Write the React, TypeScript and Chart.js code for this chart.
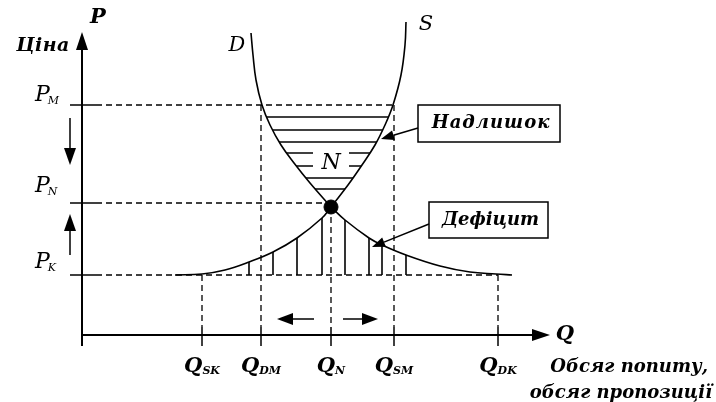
import React, { useEffect, useRef } from "react";
import { Chart, registerables } from "chart.js";
Chart.register(...registerables);

// ---- data (units: Q to the right of the price axis, P above the quantity axis) ----
const Q_VALUES = [120, 179, 249, 312, 416];
const Q_SUBS = ["SK", "DM", "N", "SM", "DK"];
const Q_TOPS = [60, 230, 128, 230, 60];
const P_VALUES = [230, 132, 60];
const P_SUBS = ["M", "N", "K"];
const P_ENDS = [312, 249, 416];
const P_LABEL_OFFSETS = [4, 11, 7];
const EQUILIBRIUM = [{ x: 249, y: 128 }];

const demandUpper = [
  { x: 169, y: 302 }, { x: 171, y: 280 }, { x: 174, y: 255 }, { x: 180, y: 230 },
  { x: 188, y: 210 }, { x: 199, y: 190 }, { x: 212, y: 172 }, { x: 228, y: 152 },
  { x: 249, y: 128 },
];
const supplyUpper = [
  { x: 324, y: 313 }, { x: 323, y: 290 }, { x: 319, y: 260 }, { x: 311, y: 230 },
  { x: 303, y: 210 }, { x: 293, y: 190 }, { x: 280, y: 170 }, { x: 266, y: 150 },
  { x: 249, y: 128 },
];
const supplyLower = [
  { x: 93, y: 60 }, { x: 120, y: 61 }, { x: 143, y: 65 }, { x: 167, y: 73 },
  { x: 191, y: 83 }, { x: 215, y: 97 }, { x: 240, y: 117 }, { x: 249, y: 128 },
];
const demandLower = [
  { x: 249, y: 128 }, { x: 263, y: 115 }, { x: 287, y: 97 }, { x: 300, y: 90 },
  { x: 324, y: 80 }, { x: 358, y: 69 }, { x: 388, y: 63 }, { x: 414, y: 61 },
  { x: 430, y: 60 },
];
const SURPLUS_HATCH = [218, 205, 193, 182, 169, 157, 146];
const DEFICIT_HATCH = [167, 191, 215, 240, 263, 287, 300, 324];

const SERIF = "'DejaVu Serif', 'Liberation Serif', serif";

export default function App() {
  const ref = useRef<HTMLCanvasElement | null>(null);
  useEffect(() => {
    const canvas = ref.current;
    if (!canvas) return;

    const plugin = {
      id: "economics",
      beforeDatasetsDraw(chart: any) {
        const ctx = chart.ctx as CanvasRenderingContext2D;
        const xs = chart.scales.x, ys = chart.scales.y;
        const X = (v: number) => xs.getPixelForValue(v);
        const Y = (v: number) => ys.getPixelForValue(v);
        ctx.save();
        ctx.strokeStyle = "#000";
        ctx.lineCap = "butt";

        // surplus hatching
        ctx.save();
        ctx.beginPath();
        demandUpper.forEach((p, i) => (i ? ctx.lineTo(X(p.x), Y(p.y)) : ctx.moveTo(X(p.x), Y(p.y))));
        [...supplyUpper].reverse().forEach((p) => ctx.lineTo(X(p.x), Y(p.y)));
        ctx.closePath();
        ctx.clip();
        ctx.lineWidth = 1.6;
        SURPLUS_HATCH.forEach((v) => {
          ctx.beginPath();
          ctx.moveTo(X(0), Y(v));
          ctx.lineTo(X(600), Y(v));
          ctx.stroke();
        });
        ctx.restore();

        // deficit hatching
        ctx.save();
        ctx.beginPath();
        supplyLower.forEach((p, i) => (i ? ctx.lineTo(X(p.x), Y(p.y)) : ctx.moveTo(X(p.x), Y(p.y))));
        demandLower.forEach((p) => ctx.lineTo(X(p.x), Y(p.y)));
        ctx.closePath();
        ctx.clip();
        ctx.lineWidth = 1.6;
        DEFICIT_HATCH.forEach((v) => {
          ctx.beginPath();
          ctx.moveTo(X(v), Y(P_VALUES[2]));
          ctx.lineTo(X(v), Y(300));
          ctx.stroke();
        });
        ctx.restore();

        // dashed guides
        ctx.lineWidth = 1.3;
        ctx.setLineDash([6, 4]);
        P_VALUES.forEach((p, i) => {
          ctx.beginPath();
          ctx.moveTo(X(14), Y(p));
          ctx.lineTo(X(P_ENDS[i]), Y(p));
          ctx.stroke();
        });
        Q_VALUES.forEach((q, i) => {
          ctx.beginPath();
          ctx.moveTo(X(q), Y(Q_TOPS[i]));
          ctx.lineTo(X(q), Y(8));
          ctx.stroke();
        });
        ctx.setLineDash([]);

        // ticks
        ctx.lineWidth = 1.5;
        P_VALUES.forEach((p) => {
          ctx.beginPath();
          ctx.moveTo(X(-12), Y(p));
          ctx.lineTo(X(14), Y(p));
          ctx.stroke();
        });
        Q_VALUES.forEach((q) => {
          ctx.beginPath();
          ctx.moveTo(X(q), Y(8));
          ctx.lineTo(X(q), Y(-11));
          ctx.stroke();
        });

        // axes
        ctx.lineWidth = 2;
        ctx.beginPath();
        ctx.moveTo(X(0), Y(-11));
        ctx.lineTo(X(0), Y(290));
        ctx.stroke();
        ctx.beginPath();
        ctx.moveTo(X(0), Y(0));
        ctx.lineTo(X(455), Y(0));
        ctx.stroke();
        // arrowheads
        ctx.fillStyle = "#000";
        ctx.beginPath();
        ctx.moveTo(X(0), Y(303));
        ctx.lineTo(X(-6), Y(285));
        ctx.lineTo(X(6), Y(285));
        ctx.closePath();
        ctx.fill();
        ctx.beginPath();
        ctx.moveTo(X(468), Y(0));
        ctx.lineTo(X(450), Y(6));
        ctx.lineTo(X(450), Y(-6));
        ctx.closePath();
        ctx.fill();
        ctx.restore();
      },
      afterDatasetsDraw(chart: any) {
        const ctx = chart.ctx as CanvasRenderingContext2D;
        const xs = chart.scales.x, ys = chart.scales.y;
        const X = (v: number) => xs.getPixelForValue(v);
        const Y = (v: number) => ys.getPixelForValue(v);
        ctx.save();
        ctx.fillStyle = "#000";
        ctx.strokeStyle = "#000";

        const arrow = (x1: number, y1: number, x2: number, y2: number, len = 14, w = 6, lw = 1.5) => {
          const a = Math.atan2(Y(y2) - Y(y1), X(x2) - X(x1));
          const tx = X(x2), ty = Y(y2);
          const bx = tx - len * Math.cos(a), by = ty - len * Math.sin(a);
          ctx.lineWidth = lw;
          ctx.beginPath();
          ctx.moveTo(X(x1), Y(y1));
          ctx.lineTo(bx, by);
          ctx.stroke();
          ctx.beginPath();
          ctx.moveTo(tx, ty);
          ctx.lineTo(bx + w * Math.sin(a), by - w * Math.cos(a));
          ctx.lineTo(bx - w * Math.sin(a), by + w * Math.cos(a));
          ctx.closePath();
          ctx.fill();
        };

        const text = (s: string, x: number, y: number, font: string, align: CanvasTextAlign = "center", base: CanvasTextBaseline = "middle", spacing = "0px") => {
          ctx.font = font;
          ctx.textAlign = align;
          ctx.textBaseline = base;
          (ctx as any).letterSpacing = spacing;
          ctx.fillText(s, x, y);
          (ctx as any).letterSpacing = "0px";
        };

        // N label with white background
        ctx.fillStyle = "#fff";
        ctx.fillRect(X(249) - 18, Y(173) - 12, 36, 24);
        ctx.fillStyle = "#000";
        text("N", X(249), Y(172), `italic 22px ${SERIF}`);

        // axis titles
        text("P", X(16), Y(317), `italic bold 21px ${SERIF}`);
        text("Ціна", X(-39), Y(289), `italic bold 19px ${SERIF}`, "center", "middle", "0.5px");
        text("D", X(155), Y(289), `italic 21px ${SERIF}`);
        text("S", X(344), Y(310), `italic 21px ${SERIF}`);
        text("Q", X(483), Y(0), `italic bold 21px ${SERIF}`);

        // price labels
        P_VALUES.forEach((p, i) => {
          const by = Y(p + P_LABEL_OFFSETS[i]);
          ctx.font = `italic 22px ${SERIF}`;
          ctx.textAlign = "left";
          ctx.textBaseline = "alphabetic";
          const x0 = X(-47);
          ctx.fillText("P", x0, by);
          const w = ctx.measureText("P").width;
          ctx.font = `italic 11px ${SERIF}`;
          ctx.fillText(P_SUBS[i], x0 + w - 2, by + 3);
        });

        // quantity labels
        Q_VALUES.forEach((q, i) => {
          const by = Y(-37);
          ctx.textBaseline = "alphabetic";
          ctx.textAlign = "left";
          ctx.font = `italic bold 21px ${SERIF}`;
          const wq = ctx.measureText("Q").width;
          ctx.font = `italic bold 11px ${SERIF}`;
          const ws = ctx.measureText(Q_SUBS[i]).width;
          const x0 = X(q) - (wq + ws) / 2;
          ctx.font = `italic bold 21px ${SERIF}`;
          ctx.fillText("Q", x0, by);
          ctx.font = `italic bold 11px ${SERIF}`;
          ctx.fillText(Q_SUBS[i], x0 + wq, by + 2);
        });

        text("Обсяг попиту,", X(626), Y(-37), `italic bold 18px ${SERIF}`, "right", "alphabetic");
        text("обсяг пропозиції", X(630), Y(-63), `italic bold 18px ${SERIF}`, "right", "alphabetic");

        // boxes
        ctx.lineWidth = 1.5;
        ctx.strokeRect(X(336), Y(230), X(478) - X(336), Y(193) - Y(230));
        text("Надлишок", (X(336) + X(478)) / 2 + 2, (Y(230) + Y(193)) / 2, `italic bold 18px ${SERIF}`, "center", "middle", "1px");
        ctx.strokeRect(X(347), Y(133), X(466) - X(347), Y(97) - Y(133));
        text("Дефіцит", (X(347) + X(466)) / 2 + 2, (Y(133) + Y(97)) / 2, `italic bold 18px ${SERIF}`, "center", "middle", "0px");
        arrow(336, 207, 299, 196, 13, 5);
        arrow(347, 111, 290, 88, 13, 5);

        // movement arrows
        arrow(-12, 217, -12, 170, 17, 6);
        arrow(-12, 80, -12, 121, 17, 6);
        arrow(232, 16, 195, 16, 16, 6);
        arrow(261, 16, 296, 16, 16, 6);
        ctx.restore();
      },
    };

    const chart = new Chart(canvas, {
      type: "scatter",
      data: {
        datasets: [
          { data: demandUpper, showLine: true, borderColor: "#000", borderWidth: 1.6, pointRadius: 0, tension: 0.4 },
          { data: supplyUpper, showLine: true, borderColor: "#000", borderWidth: 1.6, pointRadius: 0, tension: 0.4 },
          { data: supplyLower, showLine: true, borderColor: "#000", borderWidth: 1.6, pointRadius: 0, tension: 0.4 },
          { data: demandLower, showLine: true, borderColor: "#000", borderWidth: 1.6, pointRadius: 0, tension: 0.4 },
          { data: EQUILIBRIUM, pointRadius: 7, backgroundColor: "#000", borderColor: "#000", pointStyle: "circle" },
        ],
      },
      options: {
        responsive: false,
        animation: false,
        events: [],
        layout: { padding: 0, autoPadding: false },
        plugins: { legend: { display: false }, tooltip: { enabled: false } },
        scales: {
          x: { type: "linear", min: -82, max: 634, display: false },
          y: { type: "linear", min: -67, max: 335, display: false },
        },
      },
      plugins: [plugin],
    } as any);
    return () => chart.destroy();
  }, []);

  return (
    <div style={{ position: "fixed", left: 0, top: 0, width: 716, height: 402, background: "#fff" }}>
      <canvas ref={ref} width={716} height={402} style={{ display: "block" }} />
    </div>
  );
}
